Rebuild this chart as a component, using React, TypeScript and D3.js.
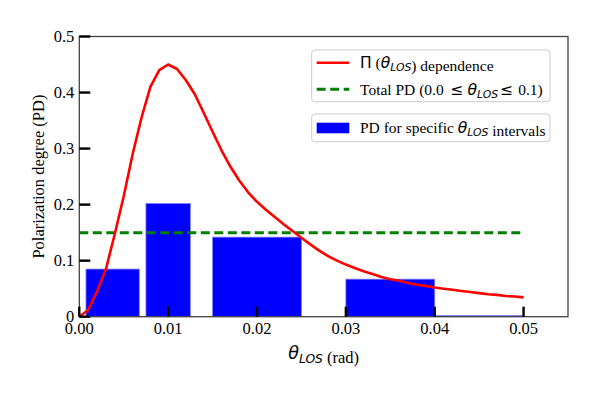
import React from 'react';
import * as d3 from 'd3';

// Pi(theta_LOS) dependence curve
const curveTheta = [0, 0.001, 0.002, 0.003, 0.004, 0.005, 0.006, 0.007, 0.008, 0.009, 0.010, 0.011, 0.012, 0.013, 0.014, 0.015, 0.016, 0.017, 0.018, 0.019, 0.020, 0.021, 0.022, 0.023, 0.024, 0.025, 0.026, 0.027, 0.028, 0.029, 0.030, 0.031, 0.032, 0.033, 0.034, 0.035, 0.036, 0.037, 0.038, 0.039, 0.040, 0.041, 0.042, 0.043, 0.044, 0.045, 0.046, 0.047, 0.048, 0.049, 0.050];
const curvePD = [0, 0.012, 0.045, 0.085, 0.148, 0.215, 0.29, 0.355, 0.41, 0.44, 0.45, 0.442, 0.422, 0.397, 0.364, 0.33, 0.297, 0.268, 0.243, 0.222, 0.205, 0.191, 0.178, 0.165, 0.153, 0.141, 0.129, 0.118, 0.108, 0.1, 0.093, 0.087, 0.081, 0.076, 0.071, 0.067, 0.064, 0.06, 0.057, 0.055, 0.052, 0.05, 0.048, 0.046, 0.044, 0.042, 0.04, 0.039, 0.037, 0.036, 0.0345];

// PD for specific theta_LOS intervals
const barLeft = [0.00075, 0.0075, 0.015, 0.03, 0.04];
const barRight = [0.00675, 0.0125, 0.025, 0.04, 0.05];
const barPD = [0.085, 0.202, 0.142, 0.067, 0.002];

// total PD
const totalPD = 0.15;
const totalRange = [0, 0.05];

const xTicks = [0, 0.01, 0.02, 0.03, 0.04, 0.05];
const yTicks = [0, 0.1, 0.2, 0.3, 0.4, 0.5];
const yTickLabels = ['0', '0.1', '0.2', '0.3', '0.4', '0.5'];

const serif = '"Liberation Serif", "DejaVu Serif", serif';
const mathFont = '"DejaVu Sans", sans-serif';

function ThetaLOS({ size }: { size: number }) {
  return (
    <>
      <tspan fontFamily={mathFont} fontStyle='italic' fontSize={size}>θ</tspan>
      <tspan fontFamily={mathFont} fontStyle='italic' fontSize={size * 0.7} dy={size * 0.22}>LOS</tspan>
      <tspan dy={-size * 0.22}></tspan>
    </>
  );
}

export default function App() {
  const width = 598;
  const height = 399;
  const left = 79.3;
  const right = 568;
  const top = 36.5;
  const bottom = 316.7;

  const x = d3.scaleLinear().domain([0, 0.055]).range([left, right]);
  const y = d3.scaleLinear().domain([0, 0.5]).range([bottom, top]);

  const line = d3.line<number>()
    .x((d, i) => x(curveTheta[i]))
    .y(d => y(d));

  const fs = 16.5;
  const lfs = 15.5;

  return (
    <svg width={width} height={height} style={{ position: 'absolute', left: 0, top: 0 }} fontFamily={serif}>
      <rect x={0} y={0} width={width} height={height} fill='#ffffff' />

      {/* bars */}
      {barPD.map((d, i) => (
        <rect
          key={i}
          x={x(barLeft[i])}
          y={y(d)}
          width={x(barRight[i]) - x(barLeft[i])}
          height={y(0) - y(d)}
          fill='#0000ff'
          stroke='#8080ff'
          strokeWidth={0.8}
        />
      ))}

      {/* total PD */}
      <line
        x1={x(totalRange[0])}
        x2={x(totalRange[1])}
        y1={y(totalPD)}
        y2={y(totalPD)}
        stroke='#008000'
        strokeWidth={3}
        strokeDasharray='9,4.5'
      />

      {/* dependence curve */}
      <path d={line(curvePD) || ''} fill='none' stroke='#ff0000' strokeWidth={2.6} strokeLinejoin='round' />

      {/* frame */}
      <rect x={left} y={top} width={right - left} height={bottom - top} fill='none' stroke='#444444' strokeWidth={1.3} />

      {/* x ticks */}
      {xTicks.map(d => (
        <g key={'x' + d}>
          <line x1={x(d)} x2={x(d)} y1={bottom} y2={bottom - 10} stroke='#000000' strokeWidth={2.4} />
          <text x={x(d)} y={bottom + 17.5} textAnchor='middle' fontSize={fs}>{d.toFixed(2)}</text>
        </g>
      ))}

      {/* y ticks */}
      {yTicks.map((d, i) => (
        <g key={'y' + d}>
          <line x1={left} x2={left + 11} y1={y(d)} y2={y(d)} stroke='#000000' strokeWidth={2.4} />
          <text x={left - 5} y={y(d) + 5.5} textAnchor='end' fontSize={fs}>{yTickLabels[i]}</text>
        </g>
      ))}

      {/* axis titles */}
      <text x={(left + right) / 2} y={359} textAnchor='middle' fontSize={fs}>
        <ThetaLOS size={fs + 1} />
        <tspan> (rad)</tspan>
      </text>
      <text transform={`translate(44,${(top + bottom) / 2}) rotate(-90)`} textAnchor='middle' fontSize={fs}>
        Polarization degree (PD)
      </text>

      {/* legend 1 */}
      <rect x={311.7} y={50} width={238.3} height={51.7} rx={3} fill='#ffffff' fillOpacity={0.8} stroke='#cccccc' strokeWidth={1} />
      <line x1={316.7} x2={349.3} y1={62.7} y2={62.7} stroke='#ff0000' strokeWidth={2.6} />
      <text x={360} y={68} fontSize={lfs}>
        <tspan fontFamily={mathFont} fontSize={lfs}>Π</tspan>
        <tspan> (</tspan>
        <ThetaLOS size={lfs} />
        <tspan>) dependence</tspan>
      </text>
      <line x1={316.7} x2={349.3} y1={89.3} y2={89.3} stroke='#008000' strokeWidth={3} strokeDasharray='9,4.5' />
      <text x={360} y={94.5} fontSize={lfs}>
        <tspan>Total PD (0.0 </tspan>
        <tspan fontFamily={mathFont} dx={3}>≤</tspan>
        <tspan fontFamily={mathFont} fontStyle='italic' fontSize={lfs} dx={4}>θ</tspan>
        <tspan fontFamily={mathFont} fontStyle='italic' fontSize={lfs * 0.7} dy={lfs * 0.22}>LOS</tspan>
        <tspan fontFamily={mathFont} dx={2} dy={-lfs * 0.22}>≤</tspan>
        <tspan dx={5}>0.1)</tspan>
      </text>

      {/* legend 2 */}
      <rect x={311.7} y={114} width={238.3} height={27.7} rx={3} fill='#ffffff' fillOpacity={0.8} stroke='#cccccc' strokeWidth={1} />
      <rect x={316.7} y={122.7} width={32.6} height={10.6} fill='#0000ff' />
      <text x={360} y={132.5} fontSize={lfs}>
        <tspan>PD for specific </tspan>
        <ThetaLOS size={lfs} />
        <tspan> intervals</tspan>
      </text>
    </svg>
  );
}
